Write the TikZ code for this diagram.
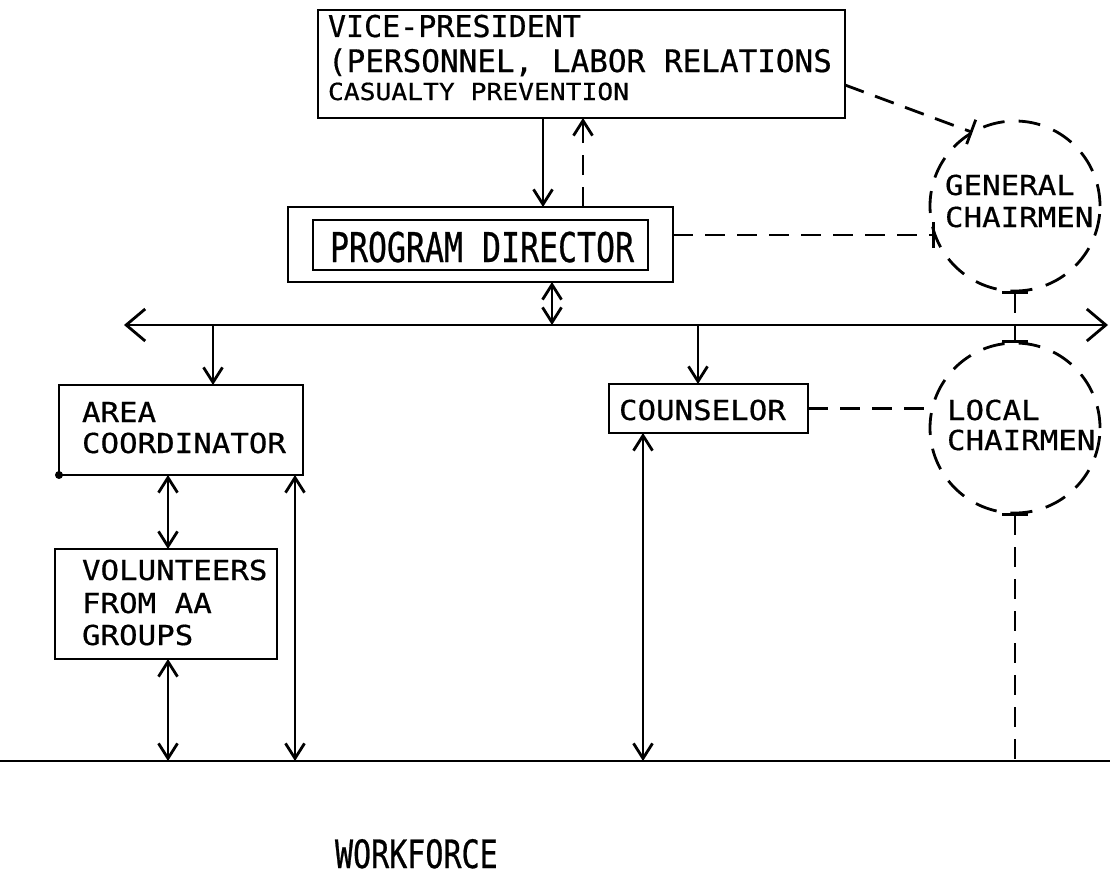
\documentclass[tikz,border=0pt]{standalone}
\usepackage{fontspec}
\usetikzlibrary{arrows.meta}
\newfontfamily\dvmono[FakeBold=0.6]{DejaVu Sans Mono}
\newfontfamily\labfont[FakeStretch=1.12,FakeBold=0.6]{DejaVu Sans Mono}
\newfontfamily\condfont[FakeStretch=0.77,FakeBold=0.6]{DejaVu Sans Mono}
\begin{document}
\begin{tikzpicture}[x=1pt,y=-1pt,line width=2.8pt,
  box/.style={draw,rectangle,inner sep=0pt,outer sep=0pt},
  circ/.style={draw,circle,dash pattern=on 22pt off 14pt,minimum size=170pt,inner sep=0pt,outer sep=0pt},
  txt/.style={anchor=base west,inner sep=0pt,outer sep=0pt,text depth=0pt},
  lab/.style={txt,font=\labfont\fontsize{27.5}{30}\selectfont},
  arr/.style={-{Straight Barb[length=15pt,width=19pt]}},
  darr/.style={{Straight Barb[length=15pt,width=19pt]}-{Straight Barb[length=15pt,width=19pt]}},
  dsh/.style={dash pattern=on 20pt off 12pt},
  barend/.style={-{Bar[width=26pt]}},
  barboth/.style={{Bar[width=26pt]}-{Bar[width=26pt]}}]
\useasboundingbox (0,0) rectangle (1110,875);
% boxes
\node[box,minimum width=527pt,minimum height=108pt] (vp) at (581.5,64) {};
\node[box,minimum width=385pt,minimum height=75pt] (pd) at (480.5,244.5) {};
\node[box,minimum width=335pt,minimum height=50pt] (pdi) at (480.5,245) {};
\node[box,minimum width=244pt,minimum height=90pt] (ac) at (181,430) {};
\node[box,minimum width=222pt,minimum height=110pt] (vol) at (166,604) {};
\node[box,minimum width=199pt,minimum height=49pt] (co) at (708.5,408.5) {};
\node[circ] (gen) at (1015,206) {};
\node[circ] (loc) at (1015,428) {};
% texts
\node[txt,font=\dvmono\fontsize{30}{30}\selectfont] (vp1) at (328,37) {VICE-PRESIDENT};
\node[txt,font=\dvmono\fontsize{31}{31}\selectfont] (vp2) at (328,72) {(PERSONNEL, LABOR RELATIONS};
\node[txt,font=\labfont\fontsize{23.5}{24}\selectfont] (vp3) at (328,100) {CASUALTY PREVENTION};
\node[txt,font=\condfont\fontsize{41}{41}\selectfont] (pdt) at (330,262) {PROGRAM DIRECTOR};
\node[lab] (ac1) at (82,422) {AREA};
\node[lab] (ac2) at (82,453) {COORDINATOR};
\node[lab] (vo1) at (82,580) {VOLUNTEERS};
\node[lab] (vo2) at (82,613) {FROM AA};
\node[lab] (vo3) at (82,645) {GROUPS};
\node[lab] (cot) at (619,420) {COUNSELOR};
\node[lab] (ge1) at (945,195) {GENERAL};
\node[lab] (ge2) at (945,227) {CHAIRMEN};
\node[lab] (lo1) at (947,420) {LOCAL};
\node[lab] (lo2) at (947,450) {CHAIRMEN};
\node[txt,font=\condfont\fontsize{39}{39}\selectfont] (wf) at (335,868) {WORKFORCE};
% small dot at corner
\fill (ac.south west) circle (4pt);
% coordinates
\coordinate (busL) at (124,325);
\coordinate (busR) at (1108,325);
\coordinate (baseL) at (0,761);
\coordinate (baseR) at (1110,761);
\coordinate (xa) at (543,0);
\coordinate (xb) at (583,0);
\coordinate (xc) at (552,0);
\coordinate (xd) at (213,0);
\coordinate (xe) at (698,0);
\coordinate (xf) at (168,0);
\coordinate (xg) at (295,0);
\coordinate (xh) at (643,0);
% lines
\draw[{Straight Barb[length=19pt,width=32pt]}-{Straight Barb[length=19pt,width=32pt]}] (busL) -- (busR);
\draw (baseL) -- (baseR);
\draw[arr] (vp.south -| xa) -- (pd.north -| xa);
\draw[arr,dsh] (pd.north -| xb) -- (vp.south -| xb);
\draw[darr] (pd.south -| xc) -- (busL -| xc);
\draw[arr] (busL -| xd) -- (ac.north -| xd);
\draw[arr] (busL -| xe) -- (co.north -| xe);
\draw[darr] (ac.south -| xf) -- (vol.north -| xf);
\draw[darr] (ac.south -| xg) -- (baseL -| xg);
\draw[darr] (vol.south -| xf) -- (baseL -| xf);
\draw[darr] (co.south -| xh) -- (baseL -| xh);
% dashed relations
\draw[dsh,barend] ([yshift=-21pt]vp.east) -- (gen.120);
\draw[dsh,barend] (gen.200 -| pd.east) -- (gen.200);
\draw[dsh,barboth] (gen.south) -- (loc.north);
\draw[dsh] (co.east) -- (co.east -| loc.west);
\draw[dsh,{Bar[width=26pt]}-] (loc.south) -- (loc.south |- baseL);
\end{tikzpicture}
\end{document}
